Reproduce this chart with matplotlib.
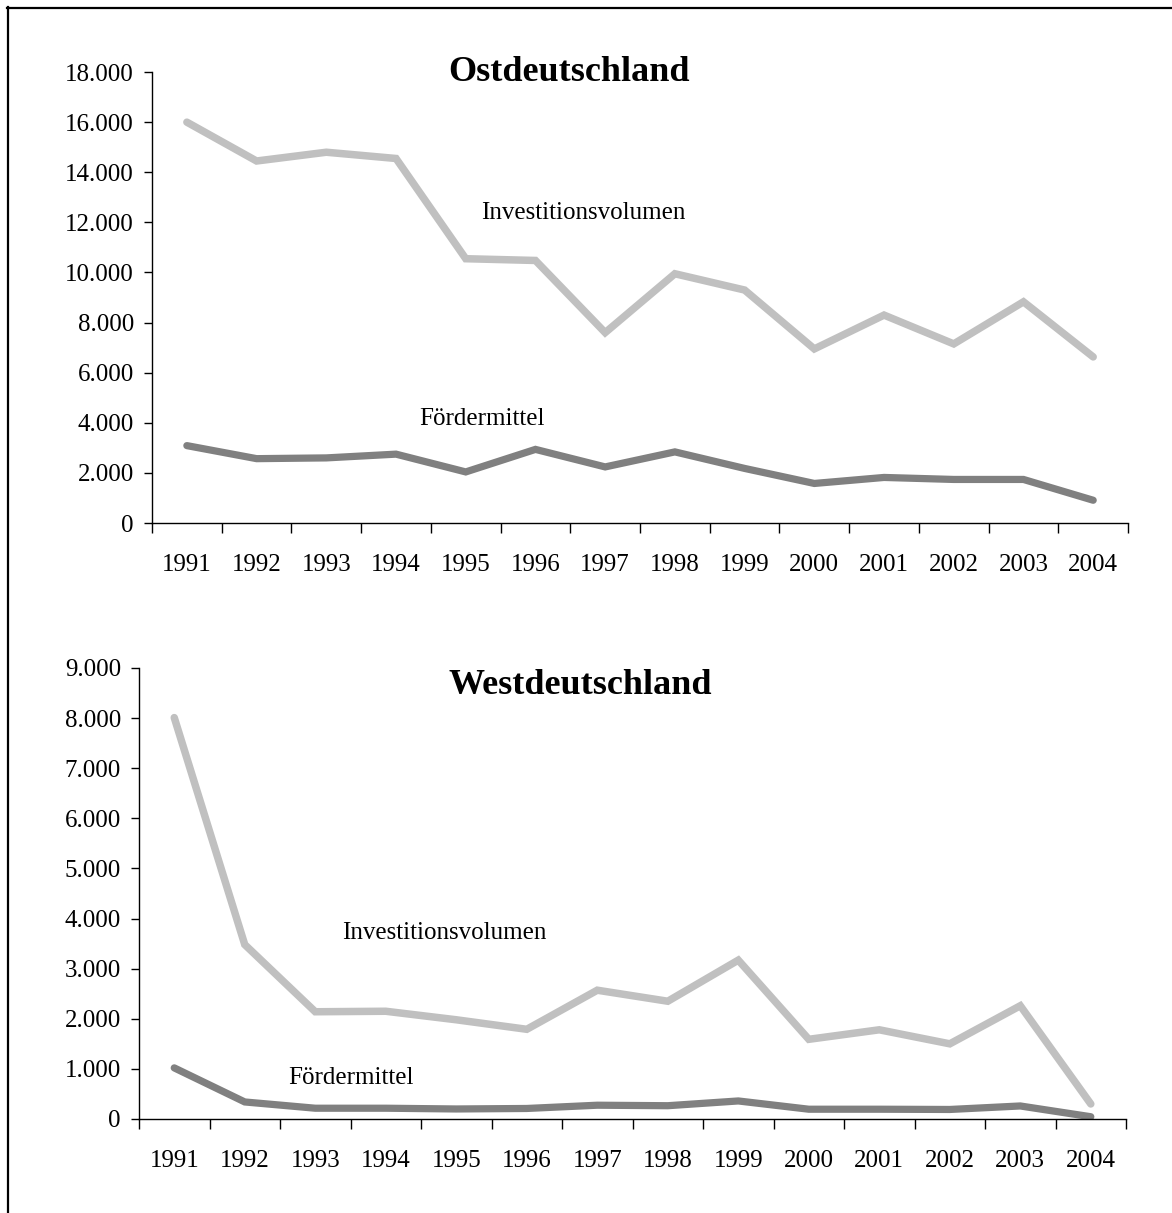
import matplotlib
matplotlib.use("Agg")
import matplotlib.pyplot as plt
from matplotlib.lines import Line2D
from matplotlib.ticker import FuncFormatter, FixedLocator

plt.rcParams['font.family'] = ['Liberation Serif', 'DejaVu Serif']

years = ['1991', '1992', '1993', '1994', '1995', '1996', '1997',
         '1998', '1999', '2000', '2001', '2002', '2003', '2004']

ost_invest = [16000, 14450, 14800, 14550, 10550, 10480, 7600,
              9950, 9300, 6950, 8300, 7150, 8830, 6630]
ost_foerder = [3090, 2570, 2600, 2750, 2040, 2940, 2240,
               2840, 2180, 1580, 1820, 1740, 1740, 910]

west_invest = [8010, 3480, 2140, 2150, 1980, 1790, 2570,
               2350, 3170, 1590, 1780, 1500, 2260, 300]
west_foerder = [1020, 340, 215, 215, 200, 210, 275,
                265, 360, 195, 195, 190, 260, 45]

FS = 18

def de_fmt(v, pos):
    return f"{int(round(v)):,}".replace(",", ".")

fig = plt.figure(figsize=(11.72, 12.13), dpi=100)

def panel(rect, invest, foerder, ymax, ystep, title, title_xy, inv_xy, foe_xy):
    ax = fig.add_axes(rect)
    x = list(range(len(years)))
    ax.plot(x, invest, color='#c0c0c0', lw=5.4, solid_capstyle='round',
            solid_joinstyle='miter')
    ax.plot(x, foerder, color='#808080', lw=5.2, solid_capstyle='round',
            solid_joinstyle='miter')
    ax.set_xlim(-0.5, len(years) - 0.5)
    ax.set_ylim(0, ymax)
    ax.spines['top'].set_visible(False)
    ax.spines['right'].set_visible(False)
    for s in ('left', 'bottom'):
        ax.spines[s].set_linewidth(1.0)
    ax.set_yticks(range(0, ymax + 1, ystep))
    ax.yaxis.set_major_formatter(FuncFormatter(de_fmt))
    ax.tick_params(axis='y', direction='out', length=6, width=1,
                   labelsize=FS, pad=7)
    # ticks at category boundaries, labels at centres
    ax.xaxis.set_major_locator(FixedLocator([i - 0.5 for i in range(len(years) + 1)]))
    ax.xaxis.set_major_formatter(FuncFormatter(lambda v, p: ''))
    ax.xaxis.set_minor_locator(FixedLocator(x))
    ax.set_xticklabels(years, minor=True)
    ax.tick_params(axis='x', which='major', direction='out', length=7, width=1)
    ax.tick_params(axis='x', which='minor', length=0, labelsize=FS, pad=22)
    ax.text(title_xy[0], title_xy[1], title, transform=ax.transAxes,
            ha='center', va='center', fontsize=26, fontweight='bold')
    ax.text(inv_xy[0], inv_xy[1], 'Investitionsvolumen', ha='center',
            va='center', fontsize=FS)
    ax.text(foe_xy[0], foe_xy[1], 'Fördermittel', ha='center',
            va='center', fontsize=FS)
    return ax

panel([0.1297, 0.5688, 0.8328, 0.3718], ost_invest, ost_foerder, 18000, 2000,
      'Ostdeutschland', (0.427, 1.0), (5.69, 12375), (4.24, 4150))
panel([0.1186, 0.0775, 0.8422, 0.3718], west_invest, west_foerder, 9000, 1000,
      'Westdeutschland', (0.447, 0.962), (3.83, 3710), (2.51, 825))

# frame lines (top and left only)
fig.add_artist(Line2D([7 / 1172, 1], [1 - 7.5 / 1213, 1 - 7.5 / 1213],
                      transform=fig.transFigure, color='black', lw=1.6))
fig.add_artist(Line2D([7.5 / 1172, 7.5 / 1172], [0, 1 - 7 / 1213],
                      transform=fig.transFigure, color='black', lw=1.6))

fig.savefig('out.png', dpi=100)
